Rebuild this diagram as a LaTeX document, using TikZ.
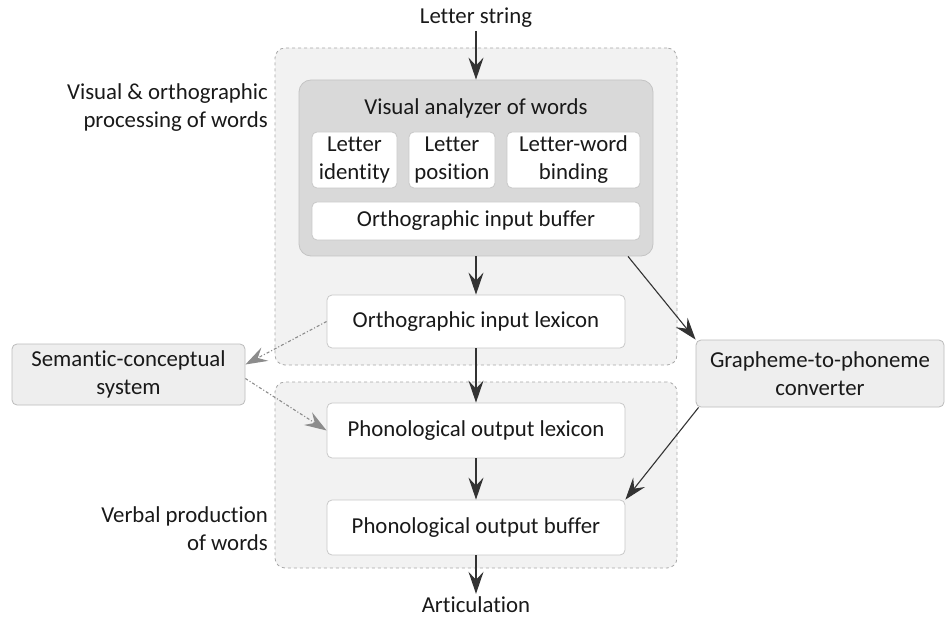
\documentclass[tikz,border=0pt]{standalone}
\usepackage{fontspec}
\setmainfont{Carlito}[Ligatures=CommonOff]
\usetikzlibrary{arrows.meta,calc}
\definecolor{grpfill}{HTML}{F2F2F2}
\definecolor{grpline}{HTML}{A8A8A8}
\definecolor{vafill}{HTML}{D9D9D9}
\definecolor{valine}{HTML}{C4C4C4}
\definecolor{boxline}{HTML}{C8C8C8}
\definecolor{sidefill}{HTML}{EEEEEE}
\definecolor{sideline}{HTML}{BBBBBB}
\definecolor{semarrow}{HTML}{8C8C8C}
\newcommand{\twoline}[2]{\raisebox{-3pt}{\begin{tabular}{@{}c@{}}#1\\#2\end{tabular}}}
\tikzset{
  every node/.style={font=\fontsize{22.8}{28}\selectfont, inner sep=0pt, text=black!90},
  grp/.style={draw=grpline, fill=grpfill, dashed, rounded corners=10pt, line width=0.8pt},
  vabox/.style={draw=valine, fill=vafill, rounded corners=12pt, line width=0.8pt},
  wbox/.style={draw=boxline, fill=white, rounded corners=5pt, line width=0.8pt, align=center},
  sbox/.style={draw=sideline, fill=sidefill, rounded corners=5pt, line width=0.8pt, align=center},
  flow/.style={-{Stealth[length=22pt,width=15pt,inset=8pt]}, line width=1.1pt, draw=black!80},
  semflow/.style={-{Stealth[length=22pt,width=15pt,inset=8pt]}, line width=1.1pt, draw=semarrow, dash dot},
  lbl/.style={align=right, anchor=east}
}
\begin{document}
\begin{tikzpicture}[x=1pt,y=-1pt]
\useasboundingbox (0,0) rectangle (945,620);
% groups
\node[grp, minimum width=402pt, minimum height=317pt] (g1) at (476,206.5) {};
\node[grp, minimum width=402pt, minimum height=186pt] (g2) at (476,475) {};
% visual analyzer
\node[vabox, minimum width=354pt, minimum height=176pt] (va) at (476,168) {};
\node (vat) at (476,108) {Visual analyzer of words};
\node[wbox, minimum width=85pt, minimum height=54pt] (li) at (354.5,160) {\twoline{Letter}{identity}};
\node[wbox, minimum width=86pt, minimum height=54pt] (lp) at (452,160) {\twoline{Letter}{position}};
\node[wbox, minimum width=133pt, minimum height=54pt] (lwb) at (573.5,160) {\twoline{Letter-word}{binding}};
\node[wbox, minimum width=328pt, minimum height=38pt] (oib) at (476,221) {Orthographic input buffer};
% main chain
\node[wbox, minimum width=298pt, minimum height=53pt] (oil) at (476,321.5) {Orthographic input lexicon};
\node[wbox, minimum width=298pt, minimum height=55pt] (pol) at (476,430.5) {Phonological output lexicon};
\node[wbox, minimum width=298pt, minimum height=55pt] (pob) at (476,527.5) {Phonological output buffer};
% side boxes
\node[sbox, minimum width=233pt, minimum height=61pt] (sem) at (128.5,374.5) {Semantic-conceptual\\system};
\node[sbox, minimum width=248pt, minimum height=67pt] (g2p) at (820,373.5) {Grapheme-to-phoneme\\converter};
% texts
\node (ls) at (476,18) {Letter string};
\node (art) at (476,605) {Articulation};
\node[lbl] (l1) at (268,108) {Visual \& orthographic\\processing of words};
\node[lbl] (l2) at (268,529) {Verbal production\\of words};
% connectors
\draw[flow] ([yshift=-3pt]ls.south) -- (va.north);
\draw[flow] (va.south) -- (oil.north);
\draw[flow] (oil.south) -- (pol.north);
\draw[flow] (pol.south) -- (pob.north);
\draw[flow] (pob.south) -- ([yshift=3pt]art.north);
\draw[flow] ([xshift=152pt]va.south) -- (g2p.north west);
\draw[flow] ([xshift=3pt]g2p.south west) -- (pob.north east);
\draw[semflow] (oil.west) -- ([yshift=10pt]sem.east);
\draw[semflow] ([yshift=-4pt]sem.east) -- (pol.west);
\end{tikzpicture}
\end{document}
